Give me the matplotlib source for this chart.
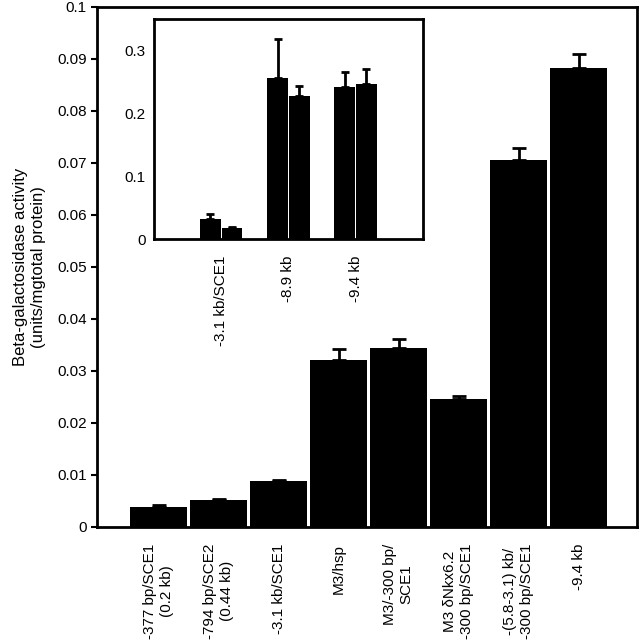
import numpy as np
import matplotlib
matplotlib.use("Agg")
from matplotlib import pyplot as plt
from matplotlib.ticker import FuncFormatter

plt.rcParams['font.family'] = ['Liberation Sans', 'DejaVu Sans']

# main chart data
labels = ["-377 bp/SCE1\n(0.2 kb)", "-794 bp/SCE2\n(0.44 kb)", "-3.1 kb/SCE1",
          "M3/hsp", "M3/-300 bp/\nSCE1", "M3 \u03b4Nkx6.2\n-300 bp/SCE1",
          "-(5.8-3.1) kb/\n-300 bp/SCE1", "-9.4 kb"]
activity = [0.0039, 0.0051, 0.0088, 0.0322, 0.0344, 0.0246, 0.0706, 0.0883]
activity_err = [0.0003, 0.0003, 0.0003, 0.0020, 0.0018, 0.0005, 0.0023, 0.0026]

# inset data (two bars per group)
inset_labels = ["-3.1 kb/SCE1", "-8.9 kb", "-9.4 kb"]
inset_a = [0.032, 0.256, 0.241]
inset_a_err = [0.008, 0.061, 0.024]
inset_b = [0.0175, 0.228, 0.246]
inset_b_err = [0.0025, 0.015, 0.024]

fig = plt.figure(figsize=(6.4, 6.4), dpi=100)
ax = fig.add_axes([0.1516, 0.1766, 0.8438, 0.8125])

x = np.arange(len(activity))
ax.bar(x, activity, width=0.96, color='black')
ax.errorbar(x, activity, yerr=[np.zeros(len(x)), activity_err], fmt='none',
            ecolor='black', elinewidth=2, capsize=5, capthick=2)
ax.set_xlim(-1.025, 7.975)
ax.set_ylim(0, 0.1)
ax.set_yticks(np.arange(0, 0.1001, 0.01))
ax.yaxis.set_major_formatter(FuncFormatter(lambda v, p: "%g" % round(v, 3)))
ax.set_xticks(x)
ax.set_xticklabels(labels, rotation=90, fontsize=11)
ax.tick_params(axis='x', length=0, pad=12)
ax.tick_params(axis='y', labelsize=11, length=4, width=1.5, direction='out')
for s in ax.spines.values():
    s.set_linewidth(2)
ax.set_ylabel("Beta-galactosidase activity\n(units/mgtotal protein)", fontsize=12,
              labelpad=8)

# inset
ins = fig.add_axes([0.2406, 0.626, 0.42, 0.345])
xi = np.arange(len(inset_a))
ins.bar(xi - 0.16, inset_a, width=0.31, color='black')
ins.bar(xi + 0.16, inset_b, width=0.31, color='black')
ins.errorbar(xi - 0.16, inset_a, yerr=[np.zeros(3), inset_a_err], fmt='none',
             ecolor='black', elinewidth=2, capsize=3, capthick=2)
ins.errorbar(xi + 0.16, inset_b, yerr=[np.zeros(3), inset_b_err], fmt='none',
             ecolor='black', elinewidth=2, capsize=3, capthick=2)
ins.set_xlim(-1, 3)
ins.set_ylim(0, 0.35)
ins.set_yticks([0, 0.1, 0.2, 0.3])
ins.yaxis.set_major_formatter(FuncFormatter(lambda v, p: "%g" % round(v, 2)))
ins.set_xticks(xi)
ins.set_xticklabels(inset_labels, rotation=90, fontsize=11)
ins.tick_params(axis='x', length=0, pad=12)
ins.tick_params(axis='y', labelsize=11, length=0, pad=6)
for s in ins.spines.values():
    s.set_linewidth(2)

fig.savefig("out.png", dpi=100)
